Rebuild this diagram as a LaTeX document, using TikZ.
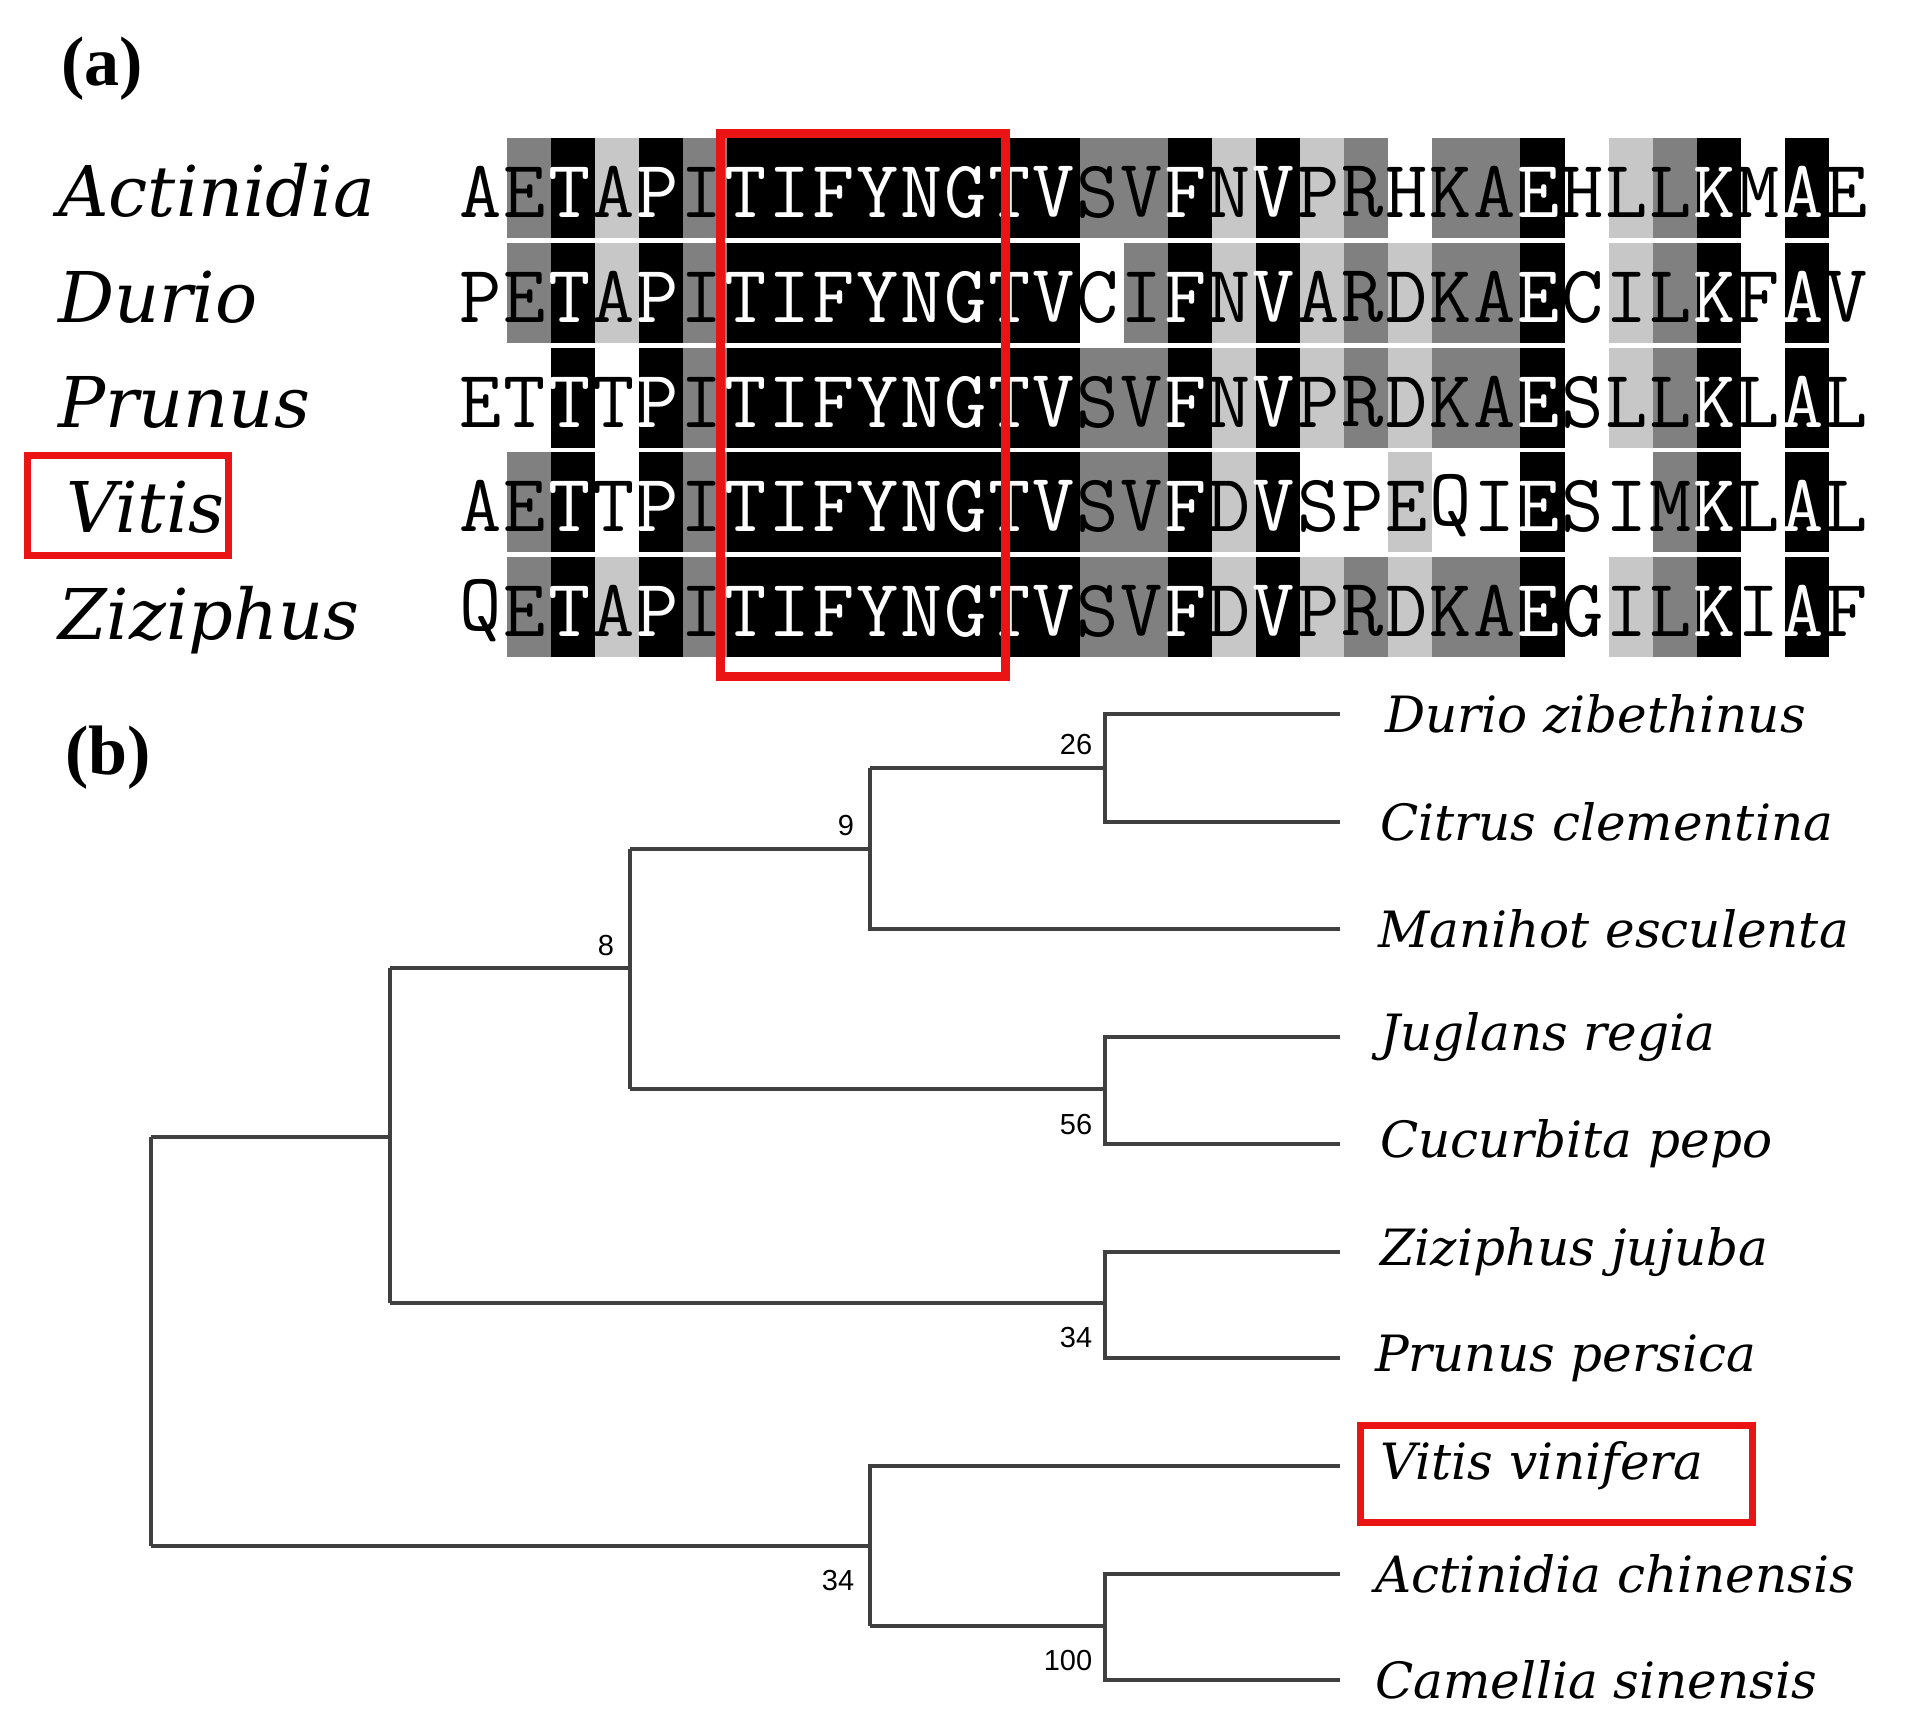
\documentclass[tikz,border=0pt]{standalone}
\usepackage{fontspec}
\setmainfont{DejaVu Serif}
\newfontfamily\tsans{Liberation Sans}
\newfontfamily\tserif{Liberation Serif}
\definecolor{shw}{gray}{1}
\definecolor{shd}{gray}{0.5}
\definecolor{shl}{gray}{0.78}
\definecolor{shk}{gray}{0}
\definecolor{txw}{gray}{0}
\definecolor{txd}{gray}{0}
\definecolor{txl}{gray}{0}
\definecolor{txk}{gray}{1}
\definecolor{boxred}{RGB}{235,20,20}
\begin{document}
\begin{tikzpicture}[x=1pt,y=-1pt,
  seq/.style={font=\ttfamily\fontsize{82}{82}\selectfont, inner sep=0pt, anchor=center},
  spname/.style={font=\fontsize{70}{70}\selectfont\itshape, anchor=base west, inner sep=0pt},
  leaf/.style={font=\fontsize{50}{50}\selectfont\itshape, anchor=west, inner sep=0pt},
  boot/.style={font=\tsans\fontsize{29}{29}\selectfont, inner sep=0pt},
  panel/.style={font=\tserif\bfseries\fontsize{70}{70}\selectfont, inner sep=0pt},
  br/.style={line width=3.4pt, draw=black!75},
  redbox/.style={draw=boxred, line width=9pt}]
\useasboundingbox (0,0) rectangle (1919,1726);
\fill[white] (0,0) rectangle (1919,1726);
% panel labels
\node[panel] (pa) at (102,69) {(a)};
\node[panel] (pb) at (108,758) {(b)};
% names
\node[spname] (nA) at (58,216) {Actinidia};
\node[spname] (nD) at (58,322) {Durio};
\node[spname] (nP) at (58,427) {Prunus};
\node[spname] (nV) at (66,532) {Vitis};
\node[spname] (nZ) at (58,639) {Ziziphus};
\draw[redbox, line width=7pt] (27,455) rectangle (228,555);
% alignment
\foreach \row/\yc in {
 {A/w,E/d,T/k,A/l,P/k,I/d,T/k,I/k,F/k,Y/k,N/k,G/k,T/k,V/k,S/d,V/d,F/k,N/l,V/k,P/l,R/d,H/w,K/d,A/d,E/k,H/w,L/l,L/d,K/k,M/w,A/k,E/w}/188,
 {P/w,E/d,T/k,A/l,P/k,I/d,T/k,I/k,F/k,Y/k,N/k,G/k,T/k,V/k,C/w,I/d,F/k,N/l,V/k,A/l,R/d,D/l,K/d,A/d,E/k,C/w,I/l,L/d,K/k,F/w,A/k,V/w}/293,
 {E/w,T/w,T/k,T/w,P/k,I/d,T/k,I/k,F/k,Y/k,N/k,G/k,T/k,V/k,S/d,V/d,F/k,N/l,V/k,P/l,R/d,D/l,K/d,A/d,E/k,S/w,L/l,L/d,K/k,L/w,A/k,L/w}/398,
 {A/w,E/d,T/k,T/w,P/k,I/d,T/k,I/k,F/k,Y/k,N/k,G/k,T/k,V/k,S/d,V/d,F/k,D/l,V/k,S/w,P/w,E/l,Q/w,I/w,E/k,S/w,I/w,M/d,K/k,L/w,A/k,L/w}/502,
 {Q/w,E/d,T/k,A/l,P/k,I/d,T/k,I/k,F/k,Y/k,N/k,G/k,T/k,V/k,S/d,V/d,F/k,D/l,V/k,P/l,R/d,D/l,K/d,A/d,E/k,G/w,I/l,L/d,K/k,I/w,A/k,F/w}/607}{
  \foreach \c/\s [count=\i from 0] in \row {
    \fill[sh\s] (463+44.06*\i,\yc-50) rectangle (463+44.06*\i+44.3,\yc+50);
    \node[seq, text=tx\s] at (481+44.06*\i,\yc+4) {\c};
  }
}
\draw[redbox] (720,134) rectangle (1005,676);
% tree
\coordinate (L1) at (1340,714);
\coordinate (L2) at (1340,822);
\coordinate (L3) at (1340,929);
\coordinate (L4) at (1340,1037);
\coordinate (L5) at (1340,1144);
\coordinate (L6) at (1340,1252);
\coordinate (L7) at (1340,1358);
\coordinate (L8) at (1340,1466);
\coordinate (L9) at (1340,1574);
\coordinate (L10) at (1340,1680);
\node[leaf] (t1) at (1385,714) {Durio zibethinus};
\node[leaf] (t2) at (1380,822) {Citrus clementina};
\node[leaf] (t3) at (1378,929) {Manihot esculenta};
\node[leaf] (t4) at (1380,1037) {Juglans regia};
\node[leaf] (t5) at (1380,1144) {Cucurbita pepo};
\node[leaf] (t6) at (1380,1252) {Ziziphus jujuba};
\node[leaf] (t7) at (1375,1358) {Prunus persica};
\node[leaf] (t8) at (1380,1466) {Vitis vinifera};
\node[leaf] (t9) at (1375,1574) {Actinidia chinensis};
\node[leaf] (t10) at (1375,1680) {Camellia sinensis};
\draw[redbox, line width=7pt] (1360,1425) rectangle (1752,1522);
\draw[br] (L1) -| (1105,768) |- (L2);
\draw[br] (1105,768) -- (870,768);
\draw[br] (870,768) |- (L3);
\draw[br] (870,849) -- (630,849);
\draw[br] (L4) -| (1105,1089) |- (L5);
\draw[br] (1105,1089) -- (630,1089);
\draw[br] (630,849) -- (630,1089);
\draw[br] (630,968) -- (390,968);
\draw[br] (L6) -| (1105,1303) |- (L7);
\draw[br] (1105,1303) -- (390,1303);
\draw[br] (390,968) -- (390,1303);
\draw[br] (390,1137) -- (151,1137);
\draw[br] (L9) -| (1105,1626) |- (L10);
\draw[br] (1105,1626) -- (870,1626);
\draw[br] (L8) -| (870,1626);
\draw[br] (870,1546) -- (151,1546);
\draw[br] (151,1137) -- (151,1546);
% bootstrap
\node[boot] (b26) at (1076,745) {26};
\node[boot] (b9) at (846,826) {9};
\node[boot] (b8) at (606,946) {8};
\node[boot] (b56) at (1076,1125) {56};
\node[boot] (b34a) at (1076,1338) {34};
\node[boot] (b34b) at (838,1580) {34};
\node[boot] (b100) at (1068,1660) {100};
\end{tikzpicture}
\end{document}
